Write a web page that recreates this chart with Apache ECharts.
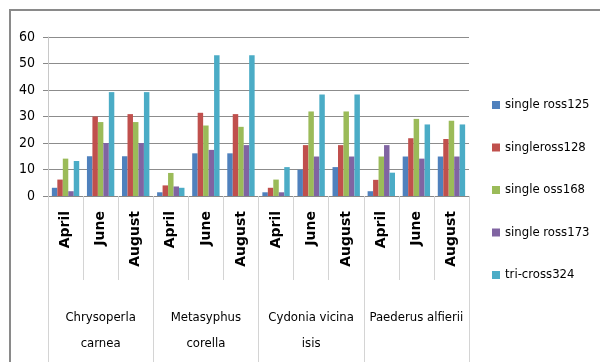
<!DOCTYPE html>
<html>
<head>
<meta charset="utf-8">
<script src="https://cdn.jsdelivr.net/npm/echarts@6/dist/echarts.min.js"></script>
<style>
html,body{margin:0;padding:0;background:#fff;}
#chart{width:600px;height:362px;}
</style>
</head>
<body>
<div id="chart"></div>
<script>
var months = ['April','June','August','April','June','August','April','June','August','April','June','August'];
var groups = ['Chrysoperla\ncarnea','Metasyphus\ncorella','Cydonia vicina\nisis','Paederus alfierii'];
var seriesNames = ['single ross125','singleross128','single oss168','single ross173','tri-cross324'];
var ross125 = [3.1, 15.0, 15.0, 1.4, 16.1, 16.1, 1.4, 9.9, 10.9, 1.8, 14.9, 14.9];
var ross128 = [6.2, 30.0, 30.9, 4.0, 31.4, 30.9, 3.1, 19.2, 19.2, 6.1, 21.8, 21.5];
var oss168 = [14.1, 27.9, 27.9, 8.7, 26.6, 26.1, 6.2, 31.9, 31.9, 14.9, 29.1, 28.4];
var ross173 = [1.8, 20.0, 20.0, 3.6, 17.4, 19.2, 1.4, 14.9, 14.9, 19.2, 14.1, 14.9];
var cross324 = [13.2, 39.2, 39.2, 3.1, 53.1, 53.1, 10.9, 38.3, 38.3, 8.8, 27.0, 27.0];
var yTicks = [0, 10, 20, 30, 40, 50, 60];

var colors = ['#4F81BD','#C0504D','#9BBB59','#8064A2','#4BACC6'];
var values = [ross125, ross128, oss168, ross173, cross324];
var narrow = "'DejaVu Sans Condensed', 'Liberation Sans', sans-serif";

var chart = echarts.init(document.getElementById('chart'), null, {renderer: 'canvas'});
chart.setOption({
  animation: false,
  color: colors,
  graphic: [{
    type: 'rect',
    shape: {x: 10, y: 10, width: 620, height: 400},
    style: {fill: 'none', stroke: '#8a8a8a', lineWidth: 2},
    silent: true,
    z: 100
  }],
  grid: {left: 48, top: 37, width: 421, height: 159, containLabel: false},
  legend: {
    orient: 'vertical',
    left: 492,
    top: 98,
    padding: 0,
    itemWidth: 8,
    itemHeight: 8,
    itemGap: 28.5,
    icon: 'rect',
    data: seriesNames,
    textStyle: {fontFamily: narrow, fontSize: 13, lineHeight: 14, color: '#000'}
  },
  xAxis: [{
    type: 'category',
    data: months,
    position: 'bottom',
    axisLine: {show: true, lineStyle: {color: '#888', width: 1}},
    axisTick: {show: true, length: 84, interval: 0, lineStyle: {color: '#d4d4d4'}},
    axisLabel: {interval: 0, rotate: 90, margin: 15, fontFamily: "'DejaVu Sans', sans-serif", fontWeight: 'bold', fontSize: 14, color: '#000'},
    splitLine: {show: false}
  }, {
    type: 'category',
    data: groups,
    position: 'bottom',
    axisLine: {show: false},
    axisTick: {show: true, length: 180, interval: 0, lineStyle: {color: '#d4d4d4'}},
    axisLabel: {interval: 0, margin: 109, fontFamily: narrow, fontSize: 13, lineHeight: 26, color: '#000', verticalAlign: 'top'},
    splitLine: {show: false}
  }],
  yAxis: {
    type: 'value',
    min: yTicks[0],
    max: yTicks[yTicks.length - 1],
    interval: 10,
    axisLine: {show: true, lineStyle: {color: '#c8c8c8'}},
    axisTick: {show: true, length: 5, lineStyle: {color: '#888'}},
    axisLabel: {margin: 13, fontFamily: narrow, fontSize: 14, color: '#000'},
    splitLine: {show: true, lineStyle: {color: '#8c8c8c', width: 1}}
  },
  series: seriesNames.map(function (name, i) {
    return {
      name: name,
      type: 'bar',
      xAxisIndex: 0,
      data: values[i],
      barGap: '0%',
      barCategoryGap: '22%',
      itemStyle: {color: colors[i]}
    };
  })
});
</script>
</body>
</html>
